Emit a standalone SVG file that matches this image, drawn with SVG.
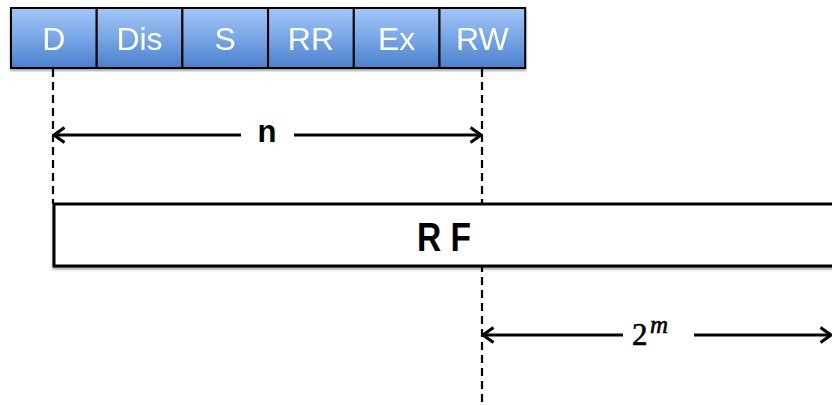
<svg xmlns="http://www.w3.org/2000/svg" width="832" height="405" viewBox="0 0 832 405">
  <defs>
    <linearGradient id="stageFill" x1="0" y1="0" x2="0" y2="1">
      <stop offset="0" stop-color="#a3c6f7"/>
      <stop offset="0.5" stop-color="#78a6e6"/>
      <stop offset="1" stop-color="#4a80cc"/>
    </linearGradient>
    <filter id="shadow" x="-5%" y="-20%" width="110%" height="150%">
      <feDropShadow dx="0" dy="2" stdDeviation="1.2" flood-color="#000" flood-opacity="0.35"/>
    </filter>
    <marker id="chev" viewBox="0 0 14 18" refX="12.5" refY="9" markerWidth="14" markerHeight="18" markerUnits="userSpaceOnUse" orient="auto-start-reverse">
      <path d="M2,1.5 L12.5,9 L2,16.5" fill="none" stroke="#000" stroke-width="3"/>
    </marker>
  </defs>
  <style>
    .stage rect { fill: url(#stageFill); stroke: #000; stroke-width: 2; }
    .stage text { fill: #fff; font-family: "Liberation Sans", Arial, sans-serif; font-size: 32px; text-anchor: middle; }
    .guide { stroke: #000; stroke-width: 2.2; stroke-dasharray: 8 5; fill: none; }
    .dim { stroke: #000; stroke-width: 3; fill: none; }
    .bold { font-family: "Liberation Sans", Arial, sans-serif; font-weight: bold; fill: #000; }
    .math { font-family: "Liberation Serif", "Times New Roman", serif; fill: #000; stroke: #000; stroke-width: 0.6; }
  </style>

  <rect width="832" height="405" fill="#fff"/>

  <!-- connectors: dashed guides and dimension arrows -->
  <g id="connectors">
    <line class="guide" x1="53" y1="69" x2="53" y2="204"/>
    <line class="guide" x1="482" y1="69" x2="482" y2="405"/>
    <line class="dim" x1="54" y1="135" x2="241" y2="135" marker-start="url(#chev)"/>
    <line class="dim" x1="294" y1="135" x2="481" y2="135" marker-end="url(#chev)"/>
    <line class="dim" x1="483" y1="335" x2="623" y2="335" marker-start="url(#chev)"/>
    <line class="dim" x1="694" y1="335" x2="831" y2="335" marker-end="url(#chev)"/>
  </g>

  <!-- pipeline stages -->
  <g filter="url(#shadow)">
    <g id="stage-D" class="stage"><rect x="11" y="8" width="85.7" height="60"/><text x="53.8" y="50">D</text></g>
    <g id="stage-Dis" class="stage"><rect x="96.7" y="8" width="85.7" height="60"/><text x="139.5" y="50">Dis</text></g>
    <g id="stage-S" class="stage"><rect x="182.4" y="8" width="85.7" height="60"/><text x="225.2" y="50">S</text></g>
    <g id="stage-RR" class="stage"><rect x="268.1" y="8" width="85.7" height="60"/><text x="310.9" y="50">RR</text></g>
    <g id="stage-Ex" class="stage"><rect x="353.8" y="8" width="85.7" height="60"/><text x="396.6" y="50">Ex</text></g>
    <g id="stage-RW" class="stage"><rect x="439.5" y="8" width="85.7" height="60"/><text x="482.3" y="50">RW</text></g>
  </g>

  <!-- register file bar -->
  <g id="register-file">
    <rect x="54" y="204" width="800" height="62" fill="#fff" stroke="#000" stroke-width="3" filter="url(#shadow)"/>
    <text class="bold" x="444" y="251" font-size="40" text-anchor="middle" textLength="54" lengthAdjust="spacingAndGlyphs">R F</text>
  </g>

  <!-- dimension labels -->
  <g id="label-n">
    <text class="bold" x="267" y="142" font-size="31" text-anchor="middle">n</text>
  </g>
  <g id="label-2m">
    <text class="math" x="632" y="345" font-size="31">2<tspan font-style="italic" font-size="25" x="650" y="333">m</tspan></text>
  </g>
</svg>
